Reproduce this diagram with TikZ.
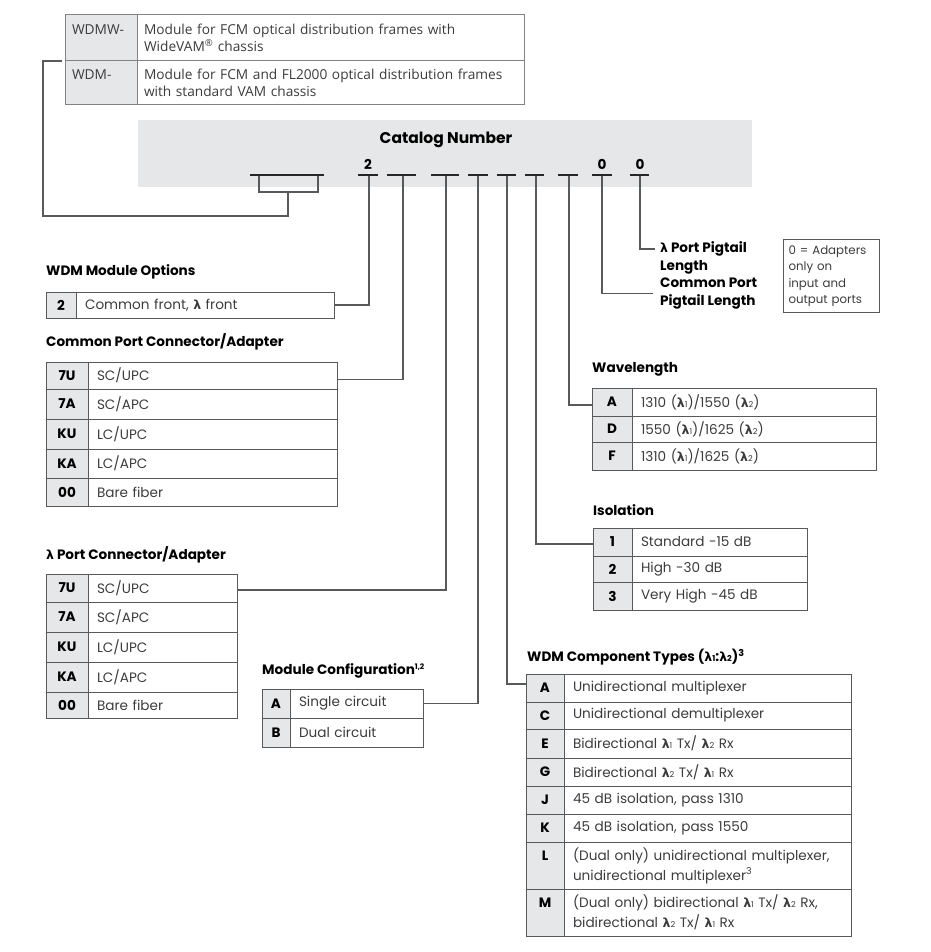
\documentclass[tikz,border=0pt]{standalone}
\usepackage{fontspec}
\setmainfont{Poppins}
\newfontfamily\topfont{Open Sans}
\newfontfamily\lamfont{DejaVu Sans}[Scale=0.92]
\usetikzlibrary{calc}
\definecolor{cellgrey}{HTML}{E6E7E8}
\definecolor{linec}{HTML}{58595B}
\definecolor{txt}{HTML}{3C3C3E}
\definecolor{topline}{HTML}{808285}
\newcommand\lm{{\lamfont\bfseries λ}}
\newcommand\lmi[1]{{\lamfont\bfseries λ}\scalebox{0.6}{#1}}
\newcommand\bodyfont{\fontsize{13.6}{16}\selectfont}
\tikzset{
  codecell/.style={draw=linec, fill=cellgrey, line width=1pt, inner sep=0pt, outer sep=0pt,
    font=\bfseries\fontsize{13.6}{20}\selectfont, text=black, align=center},
  desccell/.style={draw=linec, line width=1pt, inner xsep=9pt, inner ysep=0pt, outer sep=0pt,
    align=left, font=\fontsize{13.6}{20}\selectfont, text=txt},
  heading/.style={anchor=west, inner sep=0pt, font=\bfseries\bodyfont, text=black},
  conn/.style={draw=linec, line width=1.2pt},
  seg/.style={draw=black!85, line width=1.8pt},
  topcell/.style={draw=topline, line width=1pt, inner xsep=7pt, inner ysep=0pt, outer sep=0pt,
    align=left, font=\topfont\fontsize{13.7}{17}\selectfont, text=txt}
}
% #1 name, #2 x0, #3 xdiv, #4 x1, #5 ytop, #6 ybot, #7 code, #8 description
\newcommand\trow[8]{%
  \pgfmathsetmacro\cw{#3-#2}%
  \pgfmathsetmacro\dw{#4-#3-18}%
  \pgfmathsetmacro\rh{#6-#5}%
  \node[codecell, minimum width=\cw pt, minimum height=\rh pt, anchor=north west] (#1c) at (#2,#5) {#7};
  \node[desccell, text width=\dw pt, minimum height=\rh pt, anchor=north west] (#1d) at (#3,#5) {#8};
}
\begin{document}
\begin{tikzpicture}[x=1pt,y=-1pt]
\useasboundingbox (0,0) rectangle (930,952);

% top table
\node[topcell, fill=cellgrey, minimum height=46pt, text width=58pt, anchor=north west] (t1c) at (65,15) {WDMW-\\\mbox{}};
\node[topcell, minimum height=46pt, text width=373pt, anchor=north west] (t1d) at (137,15) {Module for FCM optical distribution frames with\\WideVAM\textsuperscript{®} chassis};
\node[topcell, fill=cellgrey, minimum height=44pt, text width=58pt, anchor=north west] (t2c) at (65,61) {WDM-\\\mbox{}};
\node[topcell, minimum height=44pt, text width=373pt, anchor=north west] (t2d) at (137,61) {Module for FCM and FL2000 optical distribution frames\\with standard VAM chassis};

% catalog bar
\node[fill=cellgrey, minimum width=614pt, minimum height=67pt, inner sep=0pt, outer sep=0pt, anchor=north west] (bar) at (138,120) {};
\node[font=\bfseries\fontsize{15.5}{18}\selectfont, inner sep=0pt] (catt) at (446,140) {Catalog Number};
\node[font=\bfseries\bodyfont, inner sep=0pt] (d2) at (368,164) {2};
\node[font=\bfseries\bodyfont, inner sep=0pt] (d0a) at (602,164) {0};
\node[font=\bfseries\bodyfont, inner sep=0pt] (d0b) at (640,164) {0};
\draw[seg] (250,175) -- (324,175);
\draw[seg] (358,175) -- (378,175);
\draw[seg] (387,175) -- (416,175);
\draw[seg] (431,175) -- (459,175);
\draw[seg] (468,175) -- (488,175);
\draw[seg] (497,175) -- (516,175);
\draw[seg] (525,175) -- (544,175);
\draw[seg] (558,175) -- (578,175);
\draw[seg] (592,175) -- (612,175);
\draw[seg] (630,175) -- (649,175);
\coordinate (s1) at (369,176);
\coordinate (s2) at (403,176);
\coordinate (s3) at (446,176);
\coordinate (s4) at (478,176);
\coordinate (s5) at (507,176);
\coordinate (s6) at (536,176);
\coordinate (s7) at (569,176);
\coordinate (s8) at (602,176);
\coordinate (s9) at (640,176);
\coordinate (brk) at (288,192);
\draw[conn] (259,176) -- (259,192) -- (318,192) -- (318,176);

% pigtail labels
\node[heading] (lpl1) at (660,249) {\lm\ Port Pigtail};
\node[heading] (lpl2) at (660,267) {Length};
\node[heading, align=left, font=\bfseries\fontsize{13.6}{17.5}\selectfont] (cpl) at (660,293.5) {Common Port\\Pigtail Length};
\node[draw=linec, line width=1pt, anchor=north west, minimum width=96pt, minimum height=73pt, inner xsep=5pt, inner ysep=0pt, text width=86pt, align=left, font=\fontsize{11.8}{16.5}\selectfont, text=txt] (note) at (783,239) {0 = Adapters\\only on\\input and\\output ports};

% WDM Module Options
\node[heading] (h1) at (46,272) {WDM Module Options};
\trow{mo1}{46}{76}{334}{292}{318}{2}{Common front, \lm\ front}

% Common Port Connector/Adapter
\node[heading] (h2) at (46,342) {Common Port Connector/Adapter};
\trow{cp1}{46}{88}{337}{362}{389}{7U}{SC/UPC}
\trow{cp2}{46}{88}{337}{389}{419}{7A}{SC/APC}
\trow{cp3}{46}{88}{337}{419}{449}{KU}{LC/UPC}
\trow{cp4}{46}{88}{337}{449}{478}{KA}{LC/APC}
\trow{cp5}{46}{88}{337}{478}{506}{00}{Bare fiber}

% lambda port
\node[heading] (h3) at (46,555) {\lm\ Port Connector/Adapter};
\trow{lp1}{46}{88}{237}{574}{602}{7U}{SC/UPC}
\trow{lp2}{46}{88}{237}{602}{632}{7A}{SC/APC}
\trow{lp3}{46}{88}{237}{632}{662}{KU}{LC/UPC}
\trow{lp4}{46}{88}{237}{662}{692}{KA}{LC/APC}
\trow{lp5}{46}{88}{237}{692}{718}{00}{Bare fiber}

% Module configuration
\node[heading] (h4) at (262,671) {Module Configuration\textsuperscript{\scalebox{0.8}{1,2}}};
\trow{mc1}{262}{290}{423}{689}{718}{A}{Single circuit}
\trow{mc2}{262}{290}{423}{718}{747}{B}{Dual circuit}

% Wavelength
\node[heading] (h5) at (592,369) {Wavelength};
\trow{wl1}{592}{632}{876}{388}{416}{A}{1310 (\lmi{1})/1550 (\lmi{2})}
\trow{wl2}{592}{632}{876}{416}{442}{D}{1550 (\lmi{1})/1625 (\lmi{2})}
\trow{wl3}{592}{632}{876}{442}{470}{F}{1310 (\lmi{1})/1625 (\lmi{2})}

% Isolation
\node[heading] (h6) at (593,510) {Isolation};
\trow{is1}{593}{632}{807}{528}{556}{1}{Standard -15 dB}
\trow{is2}{593}{632}{807}{556}{582}{2}{High -30 dB}
\trow{is3}{593}{632}{807}{582}{610}{3}{Very High -45 dB}

% WDM component types
\node[heading] (h7) at (527,657) {WDM Component Types (\lmi{1}:\lmi{2})\textsuperscript{3}};
\trow{wc1}{526}{564}{851}{674}{702}{A}{Unidirectional multiplexer}
\trow{wc2}{526}{564}{851}{702}{729}{C}{Unidirectional demultiplexer}
\trow{wc3}{526}{564}{851}{729}{758}{E}{Bidirectional \lmi{1} Tx/ \lmi{2} Rx}
\trow{wc4}{526}{564}{851}{758}{786}{G}{Bidirectional \lmi{2} Tx/ \lmi{1} Rx}
\trow{wc5}{526}{564}{851}{786}{814}{J}{45 dB isolation, pass 1310}
\trow{wc6}{526}{564}{851}{814}{842}{K}{45 dB isolation, pass 1550}
\trow{wc7}{526}{564}{851}{842}{889}{L\\\mbox{}}{(Dual only) unidirectional multiplexer,\\unidirectional multiplexer\textsuperscript{3}}
\trow{wc8}{526}{564}{851}{889}{936}{M\\\mbox{}}{(Dual only) bidirectional \lmi{1} Tx/ \lmi{2} Rx,\\bidirectional \lmi{2} Tx/ \lmi{1} Rx}

% connectors
\draw[conn] ([xshift=-3pt]t2c.north west) -| (43,216) -| (brk);
\draw[conn] (s1) |- (mo1d.east);
\draw[conn] (s2) |- ([yshift=-4pt]cp1d.east);
\draw[conn] (s3) |- ([yshift=-2pt]lp1d.east);
\draw[conn] (s4) |- (mc1d.east);
\draw[conn] (s5) |- ([yshift=4pt]wc1c.west);
\draw[conn] (s6) |- ([yshift=-2pt]is1c.west);
\draw[conn] (s7) |- ([yshift=-3pt]wl1c.west);
\draw[conn] (s8) |- ([xshift=-7pt]cpl.west);
\draw[conn] (s9) |- ([xshift=-5pt]lpl1.west);
\end{tikzpicture}
\end{document}
